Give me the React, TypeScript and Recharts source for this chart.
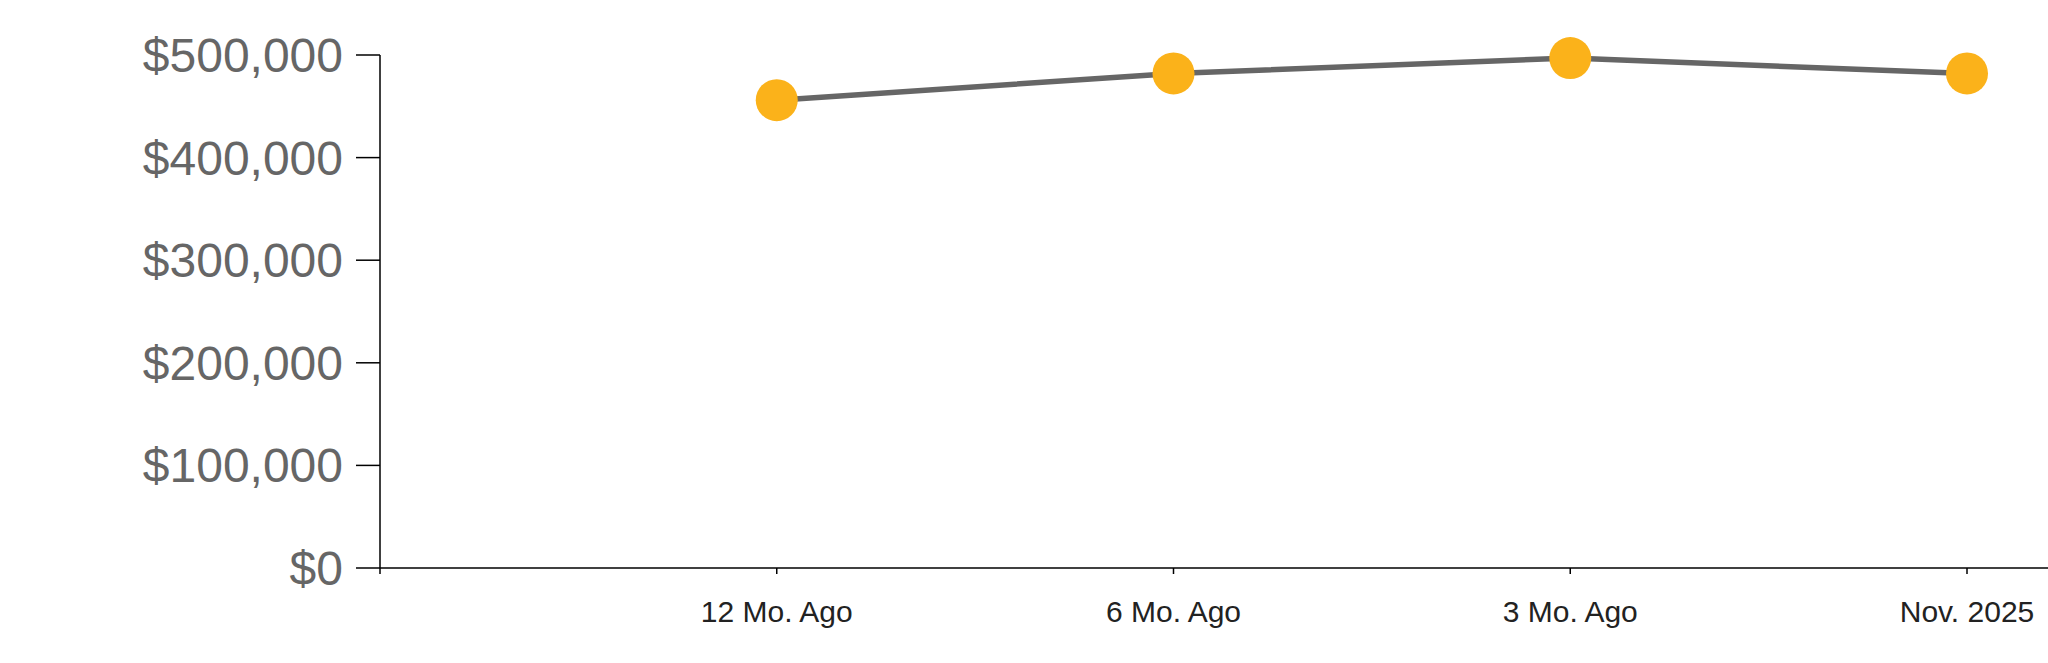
import React from "react";
import { LineChart, Line, XAxis, YAxis } from "recharts";

// first slot is an empty category so the series starts one step in
const periods = ["", "12 Mo. Ago", "6 Mo. Ago", "3 Mo. Ago", "Nov. 2025"];
const medianPrice = [null, 456000, 482000, 497000, 482000];
const priceTicks = [0, 100000, 200000, 300000, 400000, 500000];

const chartData = periods.map((p, i) => ({ period: p, price: medianPrice[i] }));

const money = (v: number) => "$" + v.toLocaleString("en-US");

export default function App() {
  return (
    <div style={{ position: "absolute", left: 0, top: 0, background: "#fff" }}>
      <LineChart
        width={2048}
        height={663}
        data={chartData}
        margin={{ top: 55, right: 0, bottom: 0, left: 0 }}
      >
        <XAxis
          dataKey="period"
          height={95}
          stroke="#000"
          strokeWidth={1.5}
          tickSize={6}
          tickMargin={27}
          padding={{ left: 0, right: 81 }}
          tick={{ fill: "#222", fontSize: 30, fontFamily: "Liberation Sans, Arial, sans-serif" }}
          interval={0}
        />
        <YAxis
          width={380}
          domain={[0, 500000]}
          ticks={priceTicks}
          tickFormatter={money}
          stroke="#000"
          strokeWidth={1.5}
          tickSize={24}
          tickMargin={13}
          tick={{ fill: "#666", fontSize: 48, fontFamily: "Liberation Sans, Arial, sans-serif" }}
        />
        <Line
          dataKey="price"
          stroke="#666"
          strokeWidth={5.5}
          dot={{ r: 21, fill: "#FBB21A", stroke: "none" }}
          activeDot={false}
          isAnimationActive={false}
        />
      </LineChart>
    </div>
  );
}
